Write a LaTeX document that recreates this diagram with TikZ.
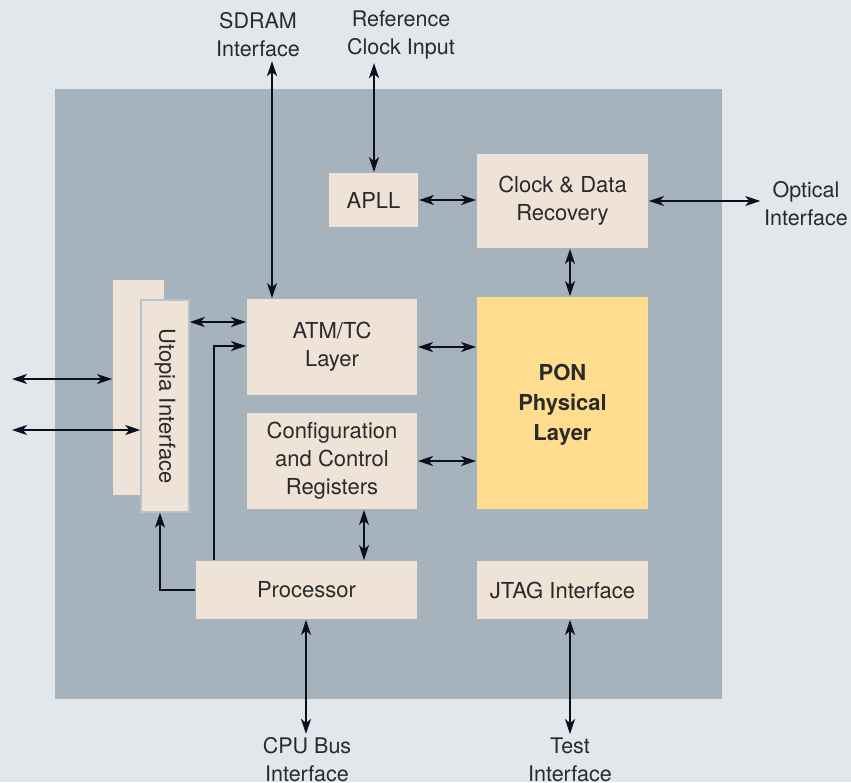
\documentclass[tikz,border=0pt]{standalone}
\usepackage{fontspec}
\setmainfont{TeX Gyre Heros}
\usetikzlibrary{arrows.meta}
\definecolor{pagebg}{HTML}{E2E7EB}
\definecolor{chipgrey}{HTML}{A6B3BC}
\definecolor{boxbeige}{HTML}{EFE3D8}
\definecolor{ponyellow}{HTML}{FFDD8E}
\definecolor{arrowblue}{HTML}{0B1020}
\definecolor{textgrey}{HTML}{2A2A2A}

\begin{document}
\begin{tikzpicture}[x=1pt, y=-1pt, >={Stealth[length=15pt,width=10pt,inset=4pt]}, line width=1.8pt,
    block/.style={fill=boxbeige, inner sep=0pt, align=center, text=textgrey,
      font=\fontsize{22}{28}\selectfont},
    extlabel/.style={inner sep=3pt, align=center, text=textgrey,
      font=\fontsize{21.5}{28}\selectfont},
    link/.style={<->, draw=arrowblue}]
  % Page and chip
  \useasboundingbox (0,0) rectangle (851,782);
  \fill[pagebg] (0,0) rectangle (851,782);
  \fill[chipgrey] (55,89) rectangle (722,699);
  % Blocks
  \node[block, minimum width=51pt, minimum height=215pt] (utback) at (138.5,387.5) {};
  \node[block, draw=chipgrey!80!white, line width=1.5pt, minimum width=48pt, minimum height=212pt]
    (utopia) at (165,406) {\rotatebox{-90}{Utopia Interface}};
  \node[block, minimum width=89pt, minimum height=54pt] (apll) at (373.5,200) {APLL};
  \node[block, minimum width=171pt, minimum height=94pt] (cdr) at (562.5,201) {Clock \& Data\\Recovery};
  \node[block, minimum width=170pt, minimum height=96pt] (atm) at (332,347) {ATM/TC\\Layer};
  \node[block, minimum width=170pt, minimum height=96pt] (cfg) at (332,461) {Configuration\\and Control\\Registers};
  \node[block, fill=ponyellow, font=\fontsize{22}{30}\selectfont\bfseries, minimum width=171pt, minimum height=212pt]
    (pon) at (562.5,403) {\rule{0pt}{19pt}PON\\Physical\\Layer};
  \node[block, minimum width=221pt, minimum height=58pt] (proc) at (306.5,590) {Processor};
  \node[block, minimum width=171pt, minimum height=58pt] (jtag) at (562.5,590) {JTAG Interface};
  % Outside labels
  \node[extlabel] (sdram) at (258,35) {SDRAM\\Interface};
  \node[extlabel] (refclk) at (401,35) {Reference\\Clock Input};
  \node[extlabel] (optical) at (806,204) {Optical\\Interface};
  \node[extlabel] (cpubus) at (307,760) {CPU Bus\\Interface};
  \node[extlabel] (test) at (570,760) {Test\\Interface};
  \coordinate (extone) at (12,379);
  \coordinate (exttwo) at (12,430);
  % Connectors
  \draw[link] (sdram.south -| 272,0) -- (272,0 |- atm.north);
  \draw[link] (refclk.south -| 374,0) -- (apll.north -| 374,0);
  \draw[link] (apll.east) -- (apll.east -| cdr.west);
  \draw[link] (cdr.east) -- (cdr.east -| optical.west);
  \draw[link] (cdr.south -| 570,0) -- (pon.north -| 570,0);
  \draw[link] (atm.east) -- (atm.east -| pon.west);
  \draw[link] (cfg.east) -- (cfg.east -| pon.west);
  \draw[link] (cfg.south -| 364,0) -- (proc.north -| 364,0);
  \draw[link] (utopia.east |- 0,322) -- (atm.west |- 0,322);
  \draw[->, draw=arrowblue] (proc.north -| 214,0) |- (atm.west |- 0,346);
  \draw[->, draw=arrowblue] (proc.west) -| (utopia.south -| 160,0);
  \draw[link] (extone) -- (extone -| utback.west);
  \draw[link] (exttwo) -- (exttwo -| utopia.west);
  \draw[link] (proc.south -| 306,0) -- (cpubus.north -| 306,0);
  \draw[link] (jtag.south -| 570,0) -- (test.north -| 570,0);
\end{tikzpicture}
\end{document}
